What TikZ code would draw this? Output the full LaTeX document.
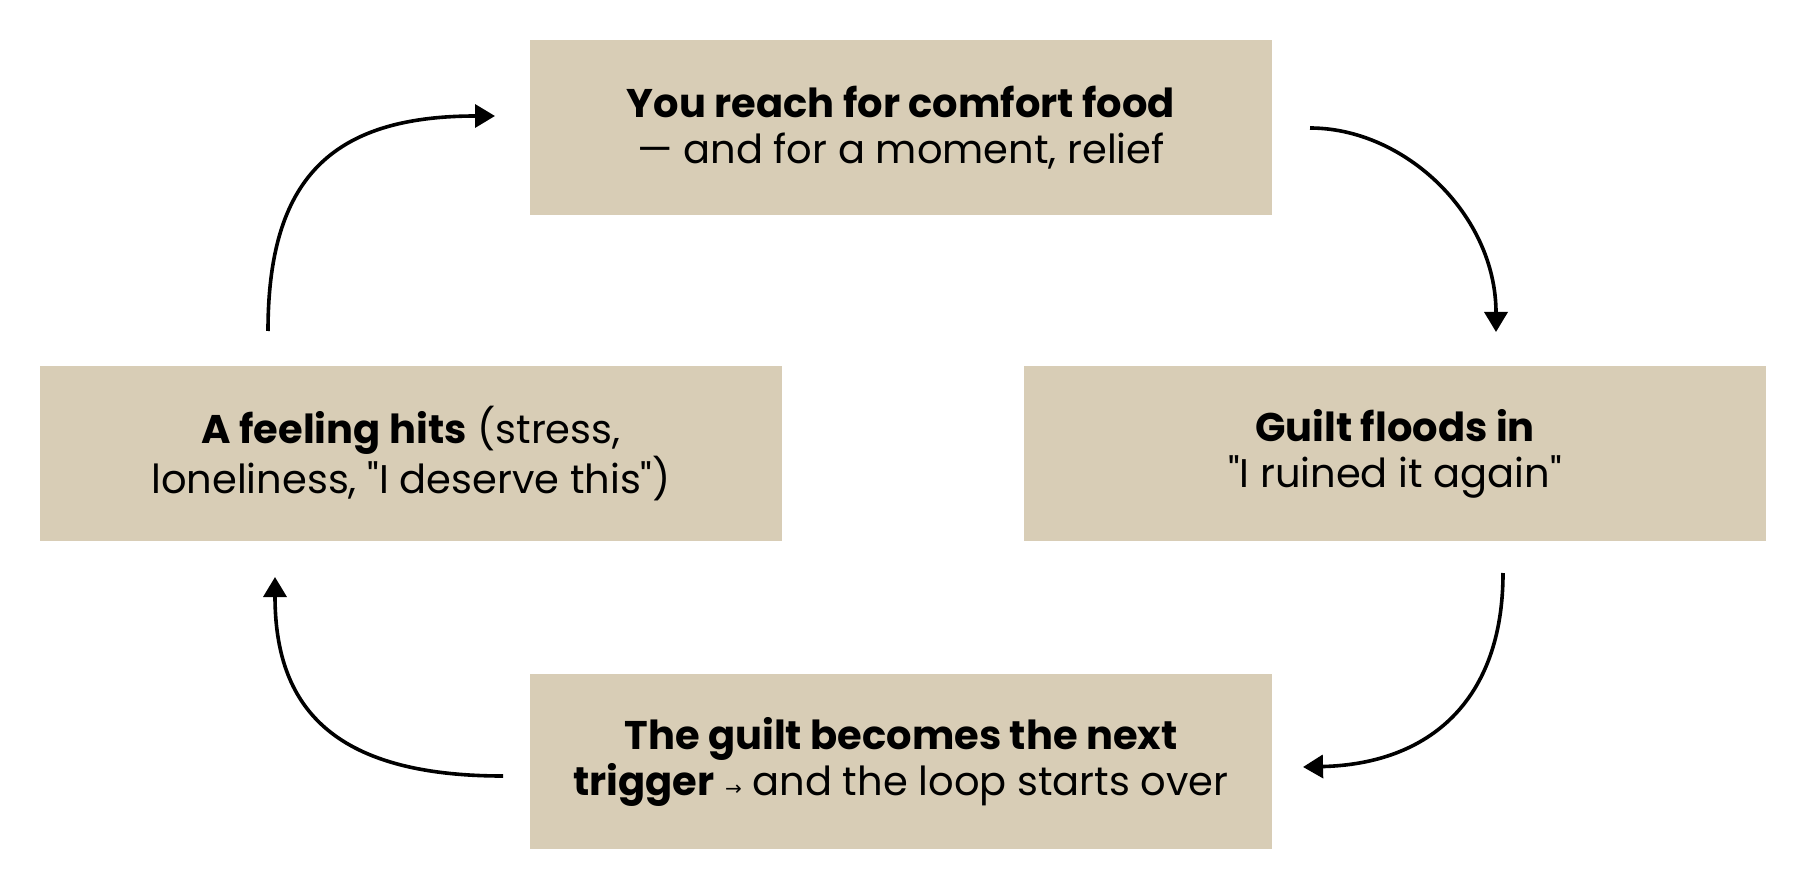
\documentclass[tikz,border=0pt]{standalone}
\usepackage{fontspec}
\setmainfont{Poppins}[Ligatures=TeXOff]
\newfontfamily\symfont{DejaVu Sans}
\usetikzlibrary{arrows.meta}
\definecolor{boxfill}{RGB}{216,205,182}
\tikzset{
  stagebox/.style={fill=boxfill, draw=none, minimum width=742pt, minimum height=175pt,
    inner sep=0pt, align=center, font=\fontsize{40}{46}\selectfont},
  loop/.style={line width=3.6pt, -{Triangle[length=20pt,width=23pt]}}
}
\begin{document}
\begin{tikzpicture}[x=1pt,y=-1pt]
\useasboundingbox[fill=white] (0,0) rectangle (1806,890);
\node[stagebox] (top) at (901,127.5) {\textbf{You reach for comfort food}\\— and for a moment, relief};
\node[stagebox] (left) at (411,453.5) {\textbf{A feeling hits} (stress,\\loneliness, "I deserve this")};
\node[stagebox] (right) at (1395,453.5) {\textbf{Guilt floods in}\\"I ruined it again"};
\node[stagebox] (bottom) at (901,761.5) {\textbf{The guilt becomes the next}\\\textbf{trigger} {\symfont\fontsize{20}{20}\selectfont →} and the loop starts over};
\coordinate (a1s) at (268,331);
\coordinate (a1e) at (495,116);
\coordinate (a2s) at (1310,128);
\coordinate (a2e) at (1496,332);
\coordinate (a3s) at (1503,573);
\coordinate (a3e) at (1303,767);
\coordinate (a4s) at (503,776);
\coordinate (a4e) at (275,577);
\draw[loop] (a1s) .. controls (268,180) and (330,116) .. (a1e);
\draw[loop] (a2s) .. controls (1405,128) and (1496,215) .. (a2e);
\draw[loop] (a3s) .. controls (1503,700) and (1430,764) .. (a3e);
\draw[loop] (a4s) .. controls (330,776) and (275,705) .. (a4e);
\end{tikzpicture}
\end{document}
